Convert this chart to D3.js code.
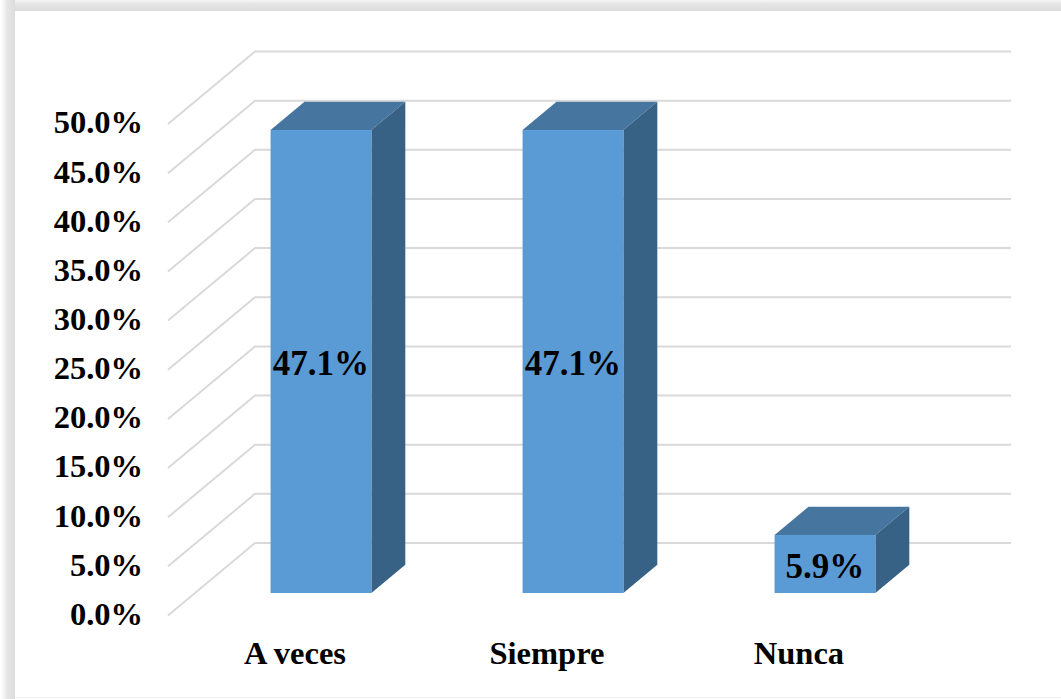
<!DOCTYPE html>
<html>
<head>
<meta charset="utf-8">
<script src="https://cdn.jsdelivr.net/npm/d3@7"></script>
<style>
  html, body { margin: 0; padding: 0; background: #fff; }
  svg { display: block; }
  text { font-family: "Liberation Serif", serif; font-weight: bold; fill: #000; }
</style>
</head>
<body>
<svg id="chart" width="1061" height="699"></svg>
<script>
const categories = ["A veces", "Siempre", "Nunca"];
const values = [47.1, 47.1, 5.9];
const valueLabels = ["47.1%", "47.1%", "5.9%"];
const tickValues = [0, 5, 10, 15, 20, 25, 30, 35, 40, 45, 50];
const tickLabels = ["0.0%", "5.0%", "10.0%", "15.0%", "20.0%", "25.0%", "30.0%", "35.0%", "40.0%", "45.0%", "50.0%"];

const svg = d3.select("#chart");

// Picture frame: a soft grey band along the top and left edges.
const defs = svg.append("defs");
const topGrad = defs.append("linearGradient").attr("id", "frameTop")
  .attr("x1", 0).attr("y1", 0).attr("x2", 0).attr("y2", 1);
topGrad.append("stop").attr("offset", "0%").attr("stop-color", "#f6f6f6");
topGrad.append("stop").attr("offset", "35%").attr("stop-color", "#e6e6e6");
topGrad.append("stop").attr("offset", "100%").attr("stop-color", "#dcdcdc");
const leftGrad = defs.append("linearGradient").attr("id", "frameLeft")
  .attr("x1", 0).attr("y1", 0).attr("x2", 1).attr("y2", 0);
leftGrad.append("stop").attr("offset", "0%").attr("stop-color", "#fafafa");
leftGrad.append("stop").attr("offset", "40%").attr("stop-color", "#e6e6e6");
leftGrad.append("stop").attr("offset", "100%").attr("stop-color", "#dcdcdc");

svg.append("rect").attr("x", 14).attr("y", 0).attr("width", 1047).attr("height", 11).attr("fill", "url(#frameTop)");
svg.append("rect").attr("x", 2).attr("y", 0).attr("width", 13).attr("height", 699).attr("fill", "url(#frameLeft)");
svg.append("line").attr("x1", 15).attr("x2", 1061).attr("y1", 697.5).attr("y2", 697.5)
  .attr("stroke", "#f0f0f0").attr("stroke-width", 1);

// Oblique projection: the wall sits behind the front plane, bars stand midway in depth.
const wallDx = 87, wallDy = -72.5;
const floorFront = 0.31, barDepth = 0.39;

const y = d3.scaleLinear().domain([0, 50]).range([615.5, 124]);
const xFront = d3.scaleBand().domain(categories)
  .range([168 + wallDx * floorFront, 168 + wallDx * floorFront + 756])
  .paddingInner(0.6).paddingOuter(0.3);

// Gridlines: the slanted floor/side run, then the long run across the back wall.
const grid = svg.append("g").attr("fill", "none").attr("stroke", "#d9d9d9").attr("stroke-width", 2);
grid.selectAll("path").data(tickValues).join("path")
  .attr("d", d => {
    const p = d3.path();
    p.moveTo(168, y(d));
    p.lineTo(168 + wallDx, y(d) + wallDy);
    p.lineTo(1011, y(d) + wallDy);
    return p.toString();
  });

// Value axis, with the domain line and tick marks removed.
const axis = d3.axisLeft(y).tickValues(tickValues)
  .tickFormat((d, i) => tickLabels[i]).tickSize(0).tickPadding(0);
const axisG = svg.append("g").attr("transform", "translate(143,-1.5)").call(axis);
axisG.select(".domain").remove();
axisG.selectAll("text").style("font-size", "32.5px").attr("fill", "#000")
  .style("font-family", '"Liberation Serif", serif').style("font-weight", "bold");

// Category labels below the bars.
const xAxis = d3.axisBottom(xFront).tickSize(0).tickPadding(0);
const xAxisG = svg.append("g").attr("transform", "translate(-26,641)").call(xAxis);
xAxisG.select(".domain").remove();
xAxisG.selectAll("text").style("font-size", "32.5px").attr("fill", "#000")
  .style("font-family", '"Liberation Serif", serif').style("font-weight", "bold");

// Bars: front face, top and right side.
const dx = wallDx * barDepth, dy = wallDy * barDepth;
const base = y(0) + wallDy * floorFront;
const h = d => y(0) - y(d);
const poly = pts => pts.map(p => p.join(",")).join(" ");
const bars = svg.append("g").selectAll("g").data(values).join("g");

bars.append("polygon").attr("fill", "#4675a0")
  .attr("points", (d, i) => {
    const x0 = xFront(categories[i]), x1 = x0 + xFront.bandwidth(), t = base - h(d);
    return poly([[x0, t], [x0 + dx, t + dy], [x1 + dx, t + dy], [x1, t]]);
  });
bars.append("polygon").attr("fill", "#376185")
  .attr("points", (d, i) => {
    const x1 = xFront(categories[i]) + xFront.bandwidth(), t = base - h(d);
    return poly([[x1, t], [x1 + dx, t + dy], [x1 + dx, base + dy], [x1, base]]);
  });
bars.append("rect").attr("fill", "#5b9bd5")
  .attr("x", (d, i) => xFront(categories[i]))
  .attr("y", d => base - h(d))
  .attr("width", xFront.bandwidth())
  .attr("height", d => h(d));

// Value labels centred on each front face.
bars.append("text")
  .attr("x", (d, i) => xFront(categories[i]) + xFront.bandwidth() / 2)
  .attr("y", d => base - h(d) / 2 + 2)
  .attr("dy", "0.33em")
  .attr("text-anchor", "middle")
  .style("font-size", "35px")
  .text((d, i) => valueLabels[i]);
</script>
</body>
</html>
